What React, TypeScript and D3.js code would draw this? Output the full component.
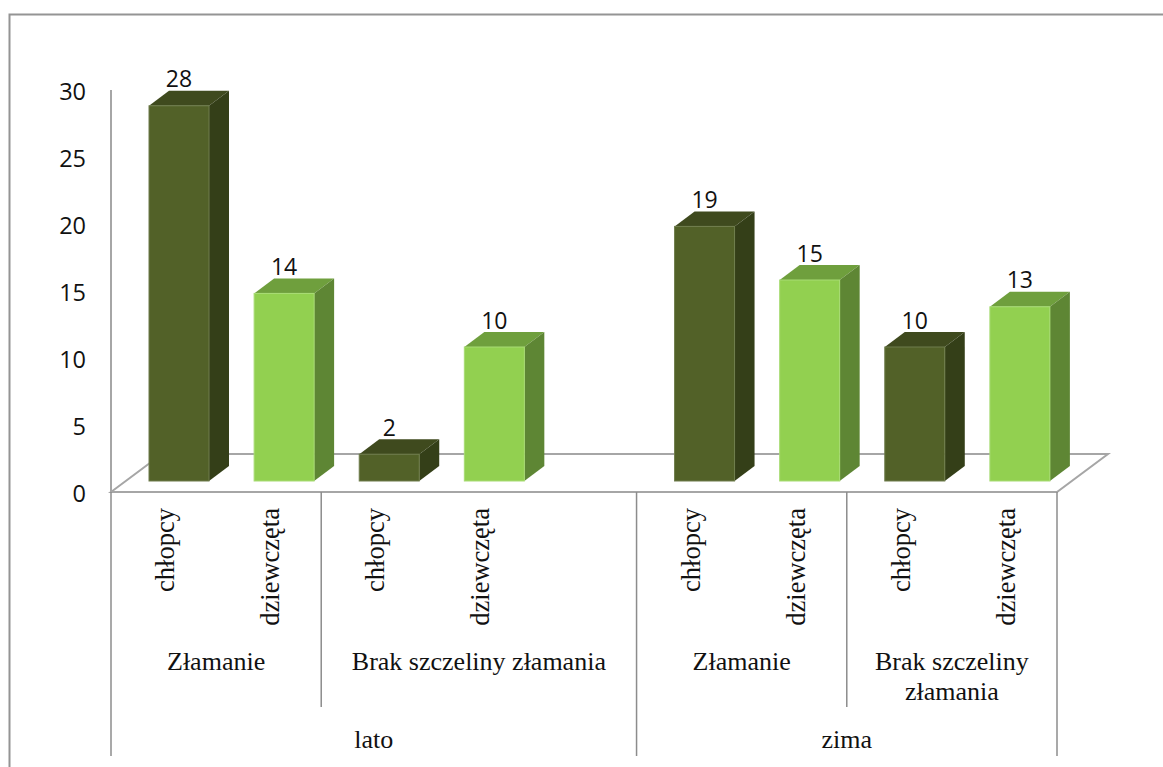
import React from "react";
import * as d3 from "d3";

const slots = ["a", "b", "c", "d", "gap", "e", "f", "g", "h"];
const seriesKinds = ["boy", "girl", "boy", "girl", "boy", "girl", "boy", "girl"];
const barSlots = ["a", "b", "c", "d", "e", "f", "g", "h"];
const barValues = [28, 14, 2, 10, 19, 15, 10, 13];
const barLabels = ["chłopcy", "dziewczęta", "chłopcy", "dziewczęta", "chłopcy", "dziewczęta", "chłopcy", "dziewczęta"];
const yTicks = [0, 5, 10, 15, 20, 25, 30];
const midGroups = [
  { lines: ["Złamanie"], from: "a", to: "b" },
  { lines: ["Brak szczeliny złamania"], from: "c", to: "gap" },
  { lines: ["Złamanie"], from: "e", to: "f" },
  { lines: ["Brak szczeliny", "złamania"], from: "g", to: "h" },
];
const topGroups = [
  { label: "lato", from: "a", to: "gap" },
  { label: "zima", from: "e", to: "h" },
];

const colors: any = {
  boy: { front: "#526128", side: "#343f18", top: "#3f4a1e", edge: "#6f7d4c" },
  girl: { front: "#92d050", side: "#5e8634", top: "#6f9f3d", edge: "#a8dc74" },
};
const gridColor = "#a6a6a6";
const serif = "'Liberation Serif', serif";
const sans = "'Open Sans', 'Noto Sans', sans-serif";

const plotL = 111;
const plotR = 1057;
const floorFront = 492;
const top30 = 90;
const barDX = 20;
const barDY = 15;
const barBaseY = 481;

export default function App() {
  const x = d3.scaleBand<string>().domain(slots).range([plotL, plotR]);
  const y = d3.scaleLinear().domain([0, 30]).range([floorFront, top30]);
  const unit = (v: number) => floorFront - y(v);
  const barW = 60;
  const barOff = 38;
  const floorDX = 51;
  const floorDY = 38;
  const path = d3.line();

  return (
    <svg width={1163} height={767} style={{ position: "absolute", left: 0, top: 0, background: "#fff" }}>
      <path d="M9.5,767V14.5H1163" fill="none" stroke="#949494" strokeWidth={2} />
      <line x1={plotL} x2={plotL} y1={top30} y2={floorFront} stroke={gridColor} strokeWidth={2} />
      <path
        d={path([
          [plotL, floorFront],
          [plotL + floorDX, floorFront - floorDY],
          [plotR + floorDX, floorFront - floorDY],
          [plotR, floorFront],
        ]) + "Z"}
        fill="none"
        stroke={gridColor}
        strokeWidth={2}
      />
      {yTicks.map((t) => (
        <text key={t} x={86} y={y(t) + 10} textAnchor="end" fontFamily={sans} fontSize={23.5} fill="#111">
          {t}
        </text>
      ))}
      {barValues.map((v, i) => {
        const c = colors[seriesKinds[i]];
        const l = x(barSlots[i])! + barOff;
        const r = l + barW;
        const b = barBaseY;
        const t = b - unit(v);
        return (
          <g key={i}>
            <path d={path([[l, t], [l + barDX, t - barDY], [r + barDX, t - barDY], [r, t]]) + "Z"} fill={c.top} />
            <path d={path([[r, t], [r + barDX, t - barDY], [r + barDX, b - barDY], [r, b]]) + "Z"} fill={c.side} />
            <rect x={l} y={t} width={barW} height={b - t} fill={c.front} stroke={c.edge} strokeWidth={1} />
            <text x={l + 30} y={t - 18.5} textAnchor="middle" fontFamily={sans} fontSize={23} fill="#111">
              {v}
            </text>
            <text
              transform={`translate(${l + 25},508) rotate(-90)`}
              textAnchor="end"
              fontFamily={serif}
              fontSize={26.5}
              fill="#111"
            >
              {barLabels[i]}
            </text>
          </g>
        );
      })}
      {midGroups.map((g, i) => {
        const a = x(g.from)!;
        const e = x(g.to)! + x.bandwidth();
        return (
          <g key={i}>
            {g.lines.map((s, j) => (
              <text
                key={j}
                x={(a + e) / 2}
                y={670 + j * 30}
                textAnchor="middle"
                fontFamily={serif}
                fontSize={26}
                fill="#111"
              >
                {s}
              </text>
            ))}
          </g>
        );
      })}
      {topGroups.map((g, i) => {
        const a = x(g.from)!;
        const e = x(g.to)! + x.bandwidth();
        return (
          <text key={i} x={(a + e) / 2} y={748} textAnchor="middle" fontFamily={serif} fontSize={26} fill="#111">
            {g.label}
          </text>
        );
      })}
      {[
        { s: "a", y2: 756 },
        { s: "c", y2: 707 },
        { s: "e", y2: 756 },
        { s: "g", y2: 707 },
      ].map((d) => (
        <line key={d.s} x1={x(d.s)!} x2={x(d.s)!} y1={floorFront} y2={d.y2} stroke="#8c8c8c" strokeWidth={1.5} />
      ))}
      <line x1={plotR} x2={plotR} y1={floorFront} y2={756} stroke="#8c8c8c" strokeWidth={1.5} />
    </svg>
  );
}
